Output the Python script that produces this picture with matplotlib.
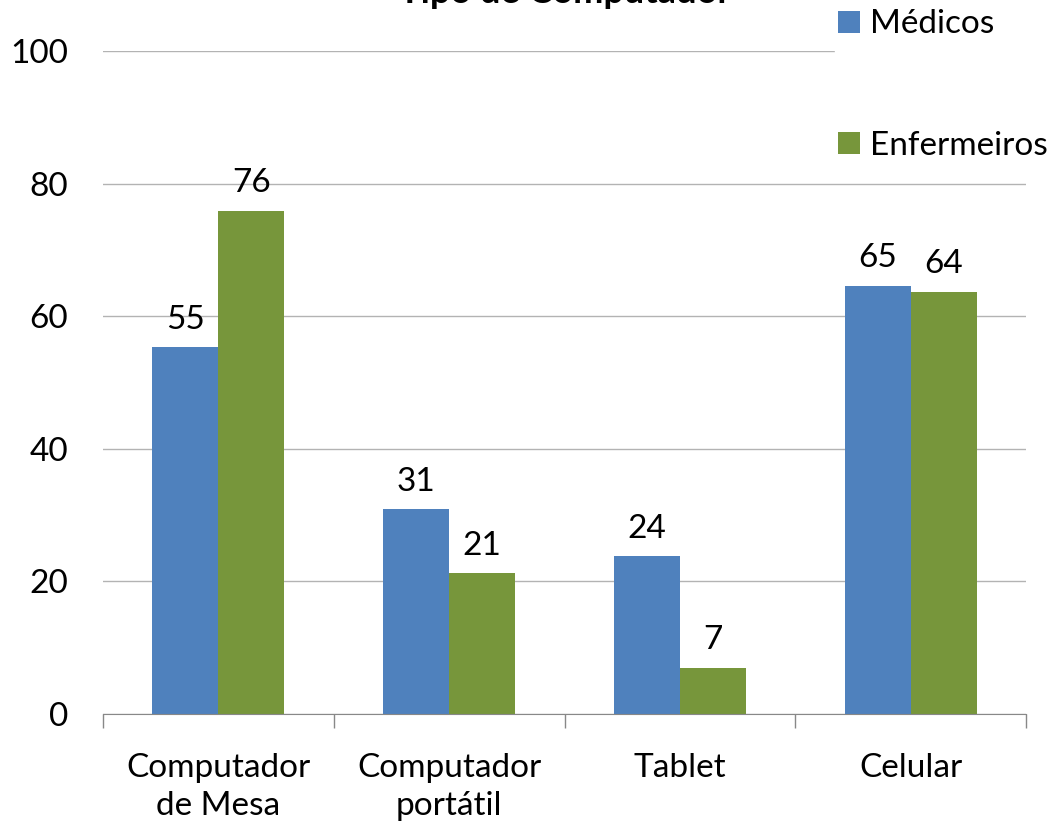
import matplotlib
matplotlib.use("Agg")
import matplotlib.pyplot as plt
import numpy as np

categories = ["Computador\nde Mesa", "Computador\nportátil", "Tablet", "Celular"]
medicos = [55.3, 30.9, 23.8, 64.6]
enfermeiros = [75.9, 21.2, 7.0, 63.7]
series_names = ["Médicos", "Enfermeiros"]
yticks = [0, 20, 40, 60, 80, 100]

plt.rcParams['font.family'] = ['Lato', 'DejaVu Sans']

fig = plt.figure(figsize=(10.56, 8.26), dpi=100)
ax = fig.add_axes([103/1056, 1-714/826, (1026-103)/1056, (714-51)/826])

blue = "#4f81bd"
green = "#77963b"
x = np.arange(len(categories))
w = 0.286
b1 = ax.bar(x - w/2, medicos, w, color=blue, label=series_names[0], zorder=3)
b2 = ax.bar(x + w/2, enfermeiros, w, color=green, label=series_names[1], zorder=3)

FS = 24
for bars, vals in ((b1, medicos), (b2, enfermeiros)):
    for rect, v in zip(bars, vals):
        ax.annotate(f"{v:.0f}", (rect.get_x() + rect.get_width()/2, v),
                    xytext=(0, 9), textcoords="offset points",
                    ha="center", va="bottom", fontsize=FS)

ax.set_xlim(-0.5, len(categories) - 0.5)
ax.set_ylim(0, 100)
ax.set_yticks(yticks)
ax.set_yticklabels([str(t) for t in yticks], fontsize=FS)
ax.yaxis.grid(True, color="#b3b3b3", linewidth=1, zorder=0)
ax.tick_params(axis="y", length=0, pad=25)

ax.set_xticks(x)
ax.set_xticklabels(categories, fontsize=FS, linespacing=1.35)
ax.tick_params(axis="x", length=0, pad=28)
ax.set_xticks(np.arange(-0.5, len(categories), 1.0), minor=True)
ax.tick_params(axis="x", which="minor", length=10, color="#888888", width=1)

for s in ["top", "right", "left"]:
    ax.spines[s].set_visible(False)
ax.spines["bottom"].set_color("#888888")
ax.spines["bottom"].set_zorder(4)

fig.text(565/1056, 1 - 3/826, "Tipo de Computador", ha="center", va="baseline",
         fontsize=26, fontweight="bold")

leg = fig.legend(loc="upper left", bbox_to_anchor=(835/1056, 1 - 6/826),
                 frameon=True, fontsize=FS, handlelength=0.65, handleheight=0.65,
                 handletextpad=0.3, labelspacing=2.75, borderpad=0.1,
                 borderaxespad=0)
leg.get_frame().set_edgecolor("white")
leg.get_frame().set_facecolor("white")
leg.get_frame().set_alpha(1)
leg.set_zorder(10)

fig.savefig("out.png", dpi=100)
